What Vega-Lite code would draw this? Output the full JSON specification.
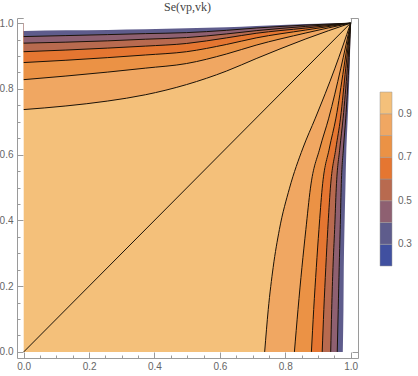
{
  "$schema": "https://vega.github.io/schema/vega-lite/v6.json",
  "width": 341,
  "height": 340,
  "autosize": "none",
  "padding": {"left": 17, "top": 18, "right": 60, "bottom": 18},
  "title": {"text": "Se(vp,vk)", "font": "Liberation Serif", "fontSize": 12, "fontWeight": "normal", "color": "#444444", "frame": "group", "anchor": "middle", "offset": 4},
  "config": {
    "view": {"stroke": "#9a9a9a", "strokeWidth": 1},
    "axis": {"domain": false, "grid": false, "labelFont": "Liberation Sans", "labelFontSize": 10, "labelColor": "#666666", "tickColor": "#9a9a9a", "labelFlush": false, "labelOverlap": false}
  },
  "resolve": {"axis": {"x": "independent", "y": "independent"}, "scale": {"fill": "shared"}, "legend": {"fill": "shared"}},
  "datasets": {
    "cont": [
      {"lv": 0.9, "c": 0.85, "x": 0.737, "y": 0},
      {"lv": 0.9, "c": 0.85, "x": 0.748, "y": 0.129},
      {"lv": 0.9, "c": 0.85, "x": 0.763, "y": 0.257},
      {"lv": 0.9, "c": 0.85, "x": 0.782, "y": 0.372},
      {"lv": 0.9, "c": 0.85, "x": 0.813, "y": 0.498},
      {"lv": 0.9, "c": 0.85, "x": 0.854, "y": 0.62},
      {"lv": 0.9, "c": 0.85, "x": 0.892, "y": 0.711},
      {"lv": 0.9, "c": 0.85, "x": 0.952, "y": 0.863},
      {"lv": 0.9, "c": 0.85, "x": 1, "y": 1},
      {"lv": 0.8, "c": 0.75, "x": 0.828, "y": 0},
      {"lv": 0.8, "c": 0.75, "x": 0.839, "y": 0.129},
      {"lv": 0.8, "c": 0.75, "x": 0.851, "y": 0.257},
      {"lv": 0.8, "c": 0.75, "x": 0.863, "y": 0.372},
      {"lv": 0.8, "c": 0.75, "x": 0.877, "y": 0.498},
      {"lv": 0.8, "c": 0.75, "x": 0.906, "y": 0.62},
      {"lv": 0.8, "c": 0.75, "x": 0.933, "y": 0.711},
      {"lv": 0.8, "c": 0.75, "x": 0.97, "y": 0.863},
      {"lv": 0.8, "c": 0.75, "x": 1, "y": 1},
      {"lv": 0.7, "c": 0.65, "x": 0.88, "y": 0},
      {"lv": 0.7, "c": 0.65, "x": 0.887, "y": 0.129},
      {"lv": 0.7, "c": 0.65, "x": 0.895, "y": 0.257},
      {"lv": 0.7, "c": 0.65, "x": 0.903, "y": 0.372},
      {"lv": 0.7, "c": 0.65, "x": 0.913, "y": 0.498},
      {"lv": 0.7, "c": 0.65, "x": 0.935, "y": 0.62},
      {"lv": 0.7, "c": 0.65, "x": 0.955, "y": 0.711},
      {"lv": 0.7, "c": 0.65, "x": 0.979, "y": 0.863},
      {"lv": 0.7, "c": 0.65, "x": 1, "y": 1},
      {"lv": 0.6, "c": 0.55, "x": 0.913, "y": 0},
      {"lv": 0.6, "c": 0.55, "x": 0.918, "y": 0.129},
      {"lv": 0.6, "c": 0.55, "x": 0.924, "y": 0.257},
      {"lv": 0.6, "c": 0.55, "x": 0.93, "y": 0.372},
      {"lv": 0.6, "c": 0.55, "x": 0.938, "y": 0.498},
      {"lv": 0.6, "c": 0.55, "x": 0.955, "y": 0.62},
      {"lv": 0.6, "c": 0.55, "x": 0.969, "y": 0.711},
      {"lv": 0.6, "c": 0.55, "x": 0.985, "y": 0.863},
      {"lv": 0.6, "c": 0.55, "x": 1, "y": 1},
      {"lv": 0.5, "c": 0.45, "x": 0.939, "y": 0},
      {"lv": 0.5, "c": 0.45, "x": 0.942, "y": 0.129},
      {"lv": 0.5, "c": 0.45, "x": 0.946, "y": 0.257},
      {"lv": 0.5, "c": 0.45, "x": 0.951, "y": 0.372},
      {"lv": 0.5, "c": 0.45, "x": 0.956, "y": 0.498},
      {"lv": 0.5, "c": 0.45, "x": 0.967, "y": 0.62},
      {"lv": 0.5, "c": 0.45, "x": 0.977, "y": 0.711},
      {"lv": 0.5, "c": 0.45, "x": 0.99, "y": 0.863},
      {"lv": 0.5, "c": 0.45, "x": 1, "y": 1},
      {"lv": 0.4, "c": 0.35, "x": 0.959, "y": 0},
      {"lv": 0.4, "c": 0.35, "x": 0.962, "y": 0.129},
      {"lv": 0.4, "c": 0.35, "x": 0.965, "y": 0.257},
      {"lv": 0.4, "c": 0.35, "x": 0.968, "y": 0.372},
      {"lv": 0.4, "c": 0.35, "x": 0.971, "y": 0.498},
      {"lv": 0.4, "c": 0.35, "x": 0.978, "y": 0.62},
      {"lv": 0.4, "c": 0.35, "x": 0.985, "y": 0.711},
      {"lv": 0.4, "c": 0.35, "x": 0.994, "y": 0.863},
      {"lv": 0.4, "c": 0.35, "x": 1, "y": 1},
      {"lv": 0.3, "c": 0.25, "x": 0.976, "y": 0},
      {"lv": 0.3, "c": 0.25, "x": 0.978, "y": 0.129},
      {"lv": 0.3, "c": 0.25, "x": 0.979, "y": 0.257},
      {"lv": 0.3, "c": 0.25, "x": 0.981, "y": 0.372},
      {"lv": 0.3, "c": 0.25, "x": 0.984, "y": 0.498},
      {"lv": 0.3, "c": 0.25, "x": 0.987, "y": 0.62},
      {"lv": 0.3, "c": 0.25, "x": 0.991, "y": 0.711},
      {"lv": 0.3, "c": 0.25, "x": 0.997, "y": 0.863},
      {"lv": 0.3, "c": 0.25, "x": 1, "y": 1}
    ]
  },
  "layer": [
    {
      "data": {"values": [{}]},
      "mark": {"type": "rect", "fill": "#F4C07A"},
      "encoding": {
        "x": {"datum": 0, "type": "quantitative",
          "scale": {"domain": [-0.0205, 1.0225], "nice": false, "zero": false},
          "axis": {"orient": "bottom", "title": null,
            "values": [0, 0.05, 0.1, 0.15, 0.2, 0.25, 0.3, 0.35, 0.4, 0.45, 0.5, 0.55, 0.6, 0.65, 0.7, 0.75, 0.8, 0.85, 0.9, 0.95, 1],
            "labelExpr": "abs(datum.value*5-round(datum.value*5))<0.001 ? format(datum.value,'.1f') : ''",
            "tickSize": {"condition": {"test": "abs(datum.value*5-round(datum.value*5))<0.001", "value": -6}, "value": -3},
            "labelPadding": 9}},
        "x2": {"datum": 1},
        "y": {"datum": 0, "type": "quantitative",
          "scale": {"domain": [-0.0185, 1.0155], "nice": false, "zero": false},
          "axis": {"orient": "left", "title": null,
            "values": [0, 0.05, 0.1, 0.15, 0.2, 0.25, 0.3, 0.35, 0.4, 0.45, 0.5, 0.55, 0.6, 0.65, 0.7, 0.75, 0.8, 0.85, 0.9, 0.95, 1],
            "labelExpr": "abs(datum.value*5-round(datum.value*5))<0.001 ? format(datum.value,'.1f') : ''",
            "tickSize": {"condition": {"test": "abs(datum.value*5-round(datum.value*5))<0.001", "value": -6}, "value": -3},
            "labelPadding": 10}},
        "y2": {"datum": 1}
      }
    },
    {
      "data": {"name": "cont"}, "transform": [{"filter": "datum.lv == 0.9"}],
      "mark": {"type": "area", "orient": "horizontal", "interpolate": "monotone"},
      "encoding": {
        "y": {"field": "y", "type": "quantitative", "axis": null},
        "x": {"field": "x", "type": "quantitative", "axis": null},
        "x2": {"datum": 1},
        "fill": {"field": "c", "type": "quantitative",
          "scale": {"type": "quantize", "domain": [0.2, 1.0], "nice": false, "zero": false,
            "range": ["#4050A0", "#5E5C8C", "#8E6071", "#B86A4F", "#E57631", "#EB9245", "#F0A762", "#F4C07A"]},
          "legend": {"type": "gradient", "orient": "none", "legendX": 363, "legendY": 74, "direction": "vertical",
            "gradientLength": 174, "gradientThickness": 12, "title": null,
            "labelExpr": "(abs(datum.value-0.3)<0.01 || abs(datum.value-0.5)<0.01 || abs(datum.value-0.7)<0.01 || abs(datum.value-0.9)<0.01) ? format(datum.value,'.1f') : ''",
            "labelFont": "Liberation Sans", "labelFontSize": 10, "labelColor": "#666666", "labelOffset": 6, "labelOverlap": false,
            "gradientStrokeColor": "#9a9a9a", "gradientStrokeWidth": 0.5, "padding": 0}}
      }
    },
    {
      "data": {"name": "cont"}, "transform": [{"filter": "datum.lv == 0.9"}],
      "mark": {"type": "area", "orient": "vertical", "interpolate": "monotone"},
      "encoding": {
        "x": {"field": "y", "type": "quantitative", "axis": null},
        "y": {"field": "x", "type": "quantitative", "axis": null},
        "y2": {"datum": 1},
        "fill": {"field": "c", "type": "quantitative", "scale": {"type": "quantize", "domain": [0.2, 1.0], "nice": false, "zero": false, "range": ["#4050A0", "#5E5C8C", "#8E6071", "#B86A4F", "#E57631", "#EB9245", "#F0A762", "#F4C07A"]}}
      }
    },
    {
      "data": {"name": "cont"}, "transform": [{"filter": "datum.lv == 0.8"}],
      "mark": {"type": "area", "orient": "horizontal", "interpolate": "monotone"},
      "encoding": {
        "y": {"field": "y", "type": "quantitative", "axis": null},
        "x": {"field": "x", "type": "quantitative", "axis": null},
        "x2": {"datum": 1},
        "fill": {"field": "c", "type": "quantitative", "scale": {"type": "quantize", "domain": [0.2, 1.0], "nice": false, "zero": false, "range": ["#4050A0", "#5E5C8C", "#8E6071", "#B86A4F", "#E57631", "#EB9245", "#F0A762", "#F4C07A"]}}
      }
    },
    {
      "data": {"name": "cont"}, "transform": [{"filter": "datum.lv == 0.8"}],
      "mark": {"type": "area", "orient": "vertical", "interpolate": "monotone"},
      "encoding": {
        "x": {"field": "y", "type": "quantitative", "axis": null},
        "y": {"field": "x", "type": "quantitative", "axis": null},
        "y2": {"datum": 1},
        "fill": {"field": "c", "type": "quantitative", "scale": {"type": "quantize", "domain": [0.2, 1.0], "nice": false, "zero": false, "range": ["#4050A0", "#5E5C8C", "#8E6071", "#B86A4F", "#E57631", "#EB9245", "#F0A762", "#F4C07A"]}}
      }
    },
    {
      "data": {"name": "cont"}, "transform": [{"filter": "datum.lv == 0.7"}],
      "mark": {"type": "area", "orient": "horizontal", "interpolate": "monotone"},
      "encoding": {
        "y": {"field": "y", "type": "quantitative", "axis": null},
        "x": {"field": "x", "type": "quantitative", "axis": null},
        "x2": {"datum": 1},
        "fill": {"field": "c", "type": "quantitative", "scale": {"type": "quantize", "domain": [0.2, 1.0], "nice": false, "zero": false, "range": ["#4050A0", "#5E5C8C", "#8E6071", "#B86A4F", "#E57631", "#EB9245", "#F0A762", "#F4C07A"]}}
      }
    },
    {
      "data": {"name": "cont"}, "transform": [{"filter": "datum.lv == 0.7"}],
      "mark": {"type": "area", "orient": "vertical", "interpolate": "monotone"},
      "encoding": {
        "x": {"field": "y", "type": "quantitative", "axis": null},
        "y": {"field": "x", "type": "quantitative", "axis": null},
        "y2": {"datum": 1},
        "fill": {"field": "c", "type": "quantitative", "scale": {"type": "quantize", "domain": [0.2, 1.0], "nice": false, "zero": false, "range": ["#4050A0", "#5E5C8C", "#8E6071", "#B86A4F", "#E57631", "#EB9245", "#F0A762", "#F4C07A"]}}
      }
    },
    {
      "data": {"name": "cont"}, "transform": [{"filter": "datum.lv == 0.6"}],
      "mark": {"type": "area", "orient": "horizontal", "interpolate": "monotone"},
      "encoding": {
        "y": {"field": "y", "type": "quantitative", "axis": null},
        "x": {"field": "x", "type": "quantitative", "axis": null},
        "x2": {"datum": 1},
        "fill": {"field": "c", "type": "quantitative", "scale": {"type": "quantize", "domain": [0.2, 1.0], "nice": false, "zero": false, "range": ["#4050A0", "#5E5C8C", "#8E6071", "#B86A4F", "#E57631", "#EB9245", "#F0A762", "#F4C07A"]}}
      }
    },
    {
      "data": {"name": "cont"}, "transform": [{"filter": "datum.lv == 0.6"}],
      "mark": {"type": "area", "orient": "vertical", "interpolate": "monotone"},
      "encoding": {
        "x": {"field": "y", "type": "quantitative", "axis": null},
        "y": {"field": "x", "type": "quantitative", "axis": null},
        "y2": {"datum": 1},
        "fill": {"field": "c", "type": "quantitative", "scale": {"type": "quantize", "domain": [0.2, 1.0], "nice": false, "zero": false, "range": ["#4050A0", "#5E5C8C", "#8E6071", "#B86A4F", "#E57631", "#EB9245", "#F0A762", "#F4C07A"]}}
      }
    },
    {
      "data": {"name": "cont"}, "transform": [{"filter": "datum.lv == 0.5"}],
      "mark": {"type": "area", "orient": "horizontal", "interpolate": "monotone"},
      "encoding": {
        "y": {"field": "y", "type": "quantitative", "axis": null},
        "x": {"field": "x", "type": "quantitative", "axis": null},
        "x2": {"datum": 1},
        "fill": {"field": "c", "type": "quantitative", "scale": {"type": "quantize", "domain": [0.2, 1.0], "nice": false, "zero": false, "range": ["#4050A0", "#5E5C8C", "#8E6071", "#B86A4F", "#E57631", "#EB9245", "#F0A762", "#F4C07A"]}}
      }
    },
    {
      "data": {"name": "cont"}, "transform": [{"filter": "datum.lv == 0.5"}],
      "mark": {"type": "area", "orient": "vertical", "interpolate": "monotone"},
      "encoding": {
        "x": {"field": "y", "type": "quantitative", "axis": null},
        "y": {"field": "x", "type": "quantitative", "axis": null},
        "y2": {"datum": 1},
        "fill": {"field": "c", "type": "quantitative", "scale": {"type": "quantize", "domain": [0.2, 1.0], "nice": false, "zero": false, "range": ["#4050A0", "#5E5C8C", "#8E6071", "#B86A4F", "#E57631", "#EB9245", "#F0A762", "#F4C07A"]}}
      }
    },
    {
      "data": {"name": "cont"}, "transform": [{"filter": "datum.lv == 0.4"}],
      "mark": {"type": "area", "orient": "horizontal", "interpolate": "monotone"},
      "encoding": {
        "y": {"field": "y", "type": "quantitative", "axis": null},
        "x": {"field": "x", "type": "quantitative", "axis": null},
        "x2": {"datum": 1},
        "fill": {"field": "c", "type": "quantitative", "scale": {"type": "quantize", "domain": [0.2, 1.0], "nice": false, "zero": false, "range": ["#4050A0", "#5E5C8C", "#8E6071", "#B86A4F", "#E57631", "#EB9245", "#F0A762", "#F4C07A"]}}
      }
    },
    {
      "data": {"name": "cont"}, "transform": [{"filter": "datum.lv == 0.4"}],
      "mark": {"type": "area", "orient": "vertical", "interpolate": "monotone"},
      "encoding": {
        "x": {"field": "y", "type": "quantitative", "axis": null},
        "y": {"field": "x", "type": "quantitative", "axis": null},
        "y2": {"datum": 1},
        "fill": {"field": "c", "type": "quantitative", "scale": {"type": "quantize", "domain": [0.2, 1.0], "nice": false, "zero": false, "range": ["#4050A0", "#5E5C8C", "#8E6071", "#B86A4F", "#E57631", "#EB9245", "#F0A762", "#F4C07A"]}}
      }
    },
    {
      "data": {"name": "cont"}, "transform": [{"filter": "datum.lv == 0.3"}],
      "mark": {"type": "area", "orient": "horizontal", "interpolate": "monotone", "fill": "#ffffff"},
      "encoding": {
        "y": {"field": "y", "type": "quantitative", "axis": null},
        "x": {"field": "x", "type": "quantitative", "axis": null},
        "x2": {"datum": 1.0225}
      }
    },
    {
      "data": {"name": "cont"}, "transform": [{"filter": "datum.lv == 0.3"}],
      "mark": {"type": "area", "orient": "vertical", "interpolate": "monotone", "fill": "#ffffff"},
      "encoding": {
        "x": {"field": "y", "type": "quantitative", "axis": null},
        "y": {"field": "x", "type": "quantitative", "axis": null},
        "y2": {"datum": 1.0155}
      }
    },
    {
      "data": {"name": "cont"}, "transform": [{"filter": "datum.lv > 0.35"}],
      "mark": {"type": "line", "color": "#1a1208", "strokeWidth": 1, "interpolate": "monotone"},
      "encoding": {
        "x": {"field": "x", "type": "quantitative", "axis": null},
        "y": {"field": "y", "type": "quantitative", "axis": null},
        "detail": {"field": "lv", "type": "nominal"},
        "order": {"field": "y", "type": "quantitative"}
      }
    },
    {
      "data": {"name": "cont"}, "transform": [{"filter": "datum.lv > 0.35"}],
      "mark": {"type": "line", "color": "#1a1208", "strokeWidth": 1, "interpolate": "monotone"},
      "encoding": {
        "x": {"field": "y", "type": "quantitative", "axis": null},
        "y": {"field": "x", "type": "quantitative", "axis": null},
        "detail": {"field": "lv", "type": "nominal"},
        "order": {"field": "y", "type": "quantitative"}
      }
    },
    {
      "data": {"values": [{}]},
      "mark": {"type": "rule", "color": "#1a1208", "strokeWidth": 1},
      "encoding": {
        "x": {"datum": 0, "type": "quantitative",
          "axis": {"orient": "top", "title": null, "labels": false,
            "values": [0, 0.05, 0.1, 0.15, 0.2, 0.25, 0.3, 0.35, 0.4, 0.45, 0.5, 0.55, 0.6, 0.65, 0.7, 0.75, 0.8, 0.85, 0.9, 0.95, 1],
            "tickSize": {"condition": {"test": "abs(datum.value*5-round(datum.value*5))<0.001", "value": -6}, "value": -3}}},
        "x2": {"datum": 1},
        "y": {"datum": 0, "type": "quantitative",
          "axis": {"orient": "right", "title": null, "labels": false,
            "values": [0, 0.05, 0.1, 0.15, 0.2, 0.25, 0.3, 0.35, 0.4, 0.45, 0.5, 0.55, 0.6, 0.65, 0.7, 0.75, 0.8, 0.85, 0.9, 0.95, 1],
            "tickSize": {"condition": {"test": "abs(datum.value*5-round(datum.value*5))<0.001", "value": -6}, "value": -3}}},
        "y2": {"datum": 1}
      }
    }
  ]
}
